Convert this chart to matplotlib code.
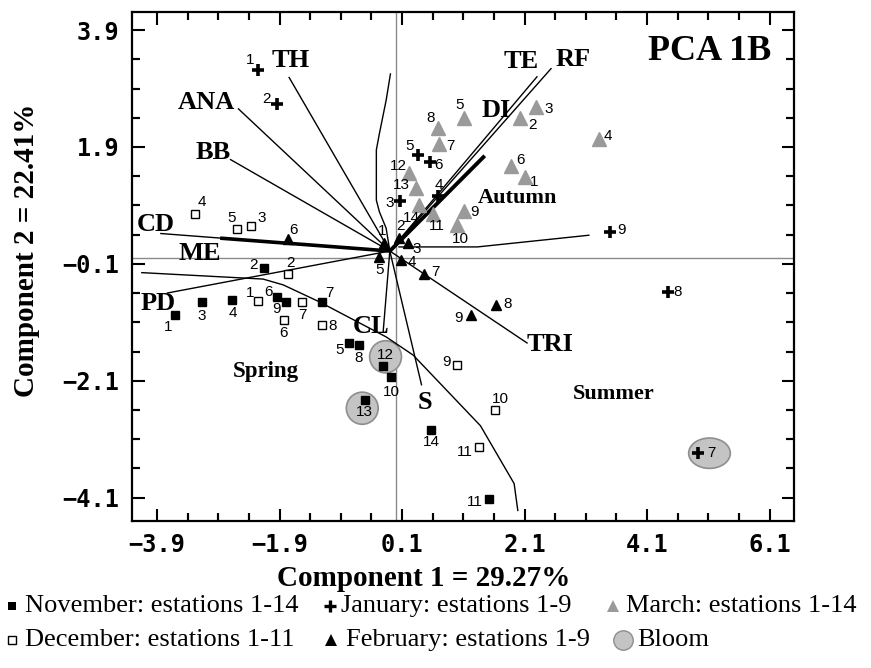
import matplotlib
matplotlib.use("Agg")
import matplotlib.pyplot as plt
from matplotlib.lines import Line2D
from matplotlib.patches import Ellipse

# ---------------- station scores (Component 1, Component 2) ----------------
nov_x = [-3.60, -2.16, -3.17, -2.67, -0.77, -1.95, -1.21, -0.61, -1.79, -0.08, 1.52, -0.21, -0.51, 0.58]
nov_y = [-0.97, -0.17, -0.75, -0.72, -1.46, -0.66, -0.76, -1.49, -0.76, -2.04, -4.13, -1.84, -2.43, -2.95]

dec_x = [-2.26, -1.76, -2.36, -3.28, -2.59, -1.83, -1.53, -1.21, 0.99, 1.62, 1.36]
dec_y = [-0.73, -0.27, 0.55, 0.76, 0.49, -1.06, -0.75, -1.15, -1.83, -2.60, -3.24]

jan_x = [-2.25, -1.95, 0.07, 0.68, 0.36, 0.56, 4.94, 4.44, 3.50]
jan_y = [3.21, 2.63, 0.97, 1.06, 1.76, 1.65, -3.34, -0.58, 0.45]

feb_x = [-0.19, 0.05, 0.19, 0.08, -0.27, -1.76, 0.45, 1.63, 1.22]
feb_y = [0.25, 0.34, 0.26, -0.03, 0.01, 0.32, -0.27, -0.81, -0.98]

mar_x = [2.11, 2.03, 2.28, 3.31, 1.11, 1.88, 0.71, 0.68, 1.11, 0.99, 0.61, 0.22, 0.33, 0.38]
mar_y = [1.38, 2.39, 2.59, 2.04, 2.39, 1.58, 1.95, 2.23, 0.80, 0.57, 0.76, 1.46, 1.19, 0.91]

# bloom stations: November 12, November 13, January 7
bloom_x = [-0.17, -0.55, 5.12]
bloom_y = [-1.69, -2.57, -3.34]

# ---------------- variable loadings ----------------
vec_names = ["TH", "ANA", "BB", "CD", "ME", "PD", "CL", "S", "TRI", "TE", "RF", "DI"]
vec_x = [-1.75, -2.58, -2.71, -3.85, -2.87, -3.74, -0.21, 0.42, 2.15, 2.31, 2.54, 1.45]
vec_y = [3.10, 2.56, 1.69, 0.42, 0.34, -0.60, -1.28, -2.18, -1.46, 3.11, 3.25, 1.75]
vec_origin = (-0.10, 0.12)

# group boundary traces
bound1_x = [-4.15, -2.17, -1.84, -1.25, -0.16, 0.28, 1.38, 1.93, 1.99]
bound1_y = [-0.25, -0.36, -0.46, -0.75, -1.35, -1.66, -2.87, -3.86, -4.32]
bound2_x = [-0.10, -0.16, -0.27, -0.32, -0.32, -0.27, -0.16, -0.09]
bound2_y = [0.12, 0.51, 0.79, 0.99, 1.85, 2.13, 2.70, 3.15]
bound3_x = [0.05, 1.33, 3.15]
bound3_y = [0.19, 0.19, 0.39]

x_ticks = [-3.9, -1.9, 0.1, 2.1, 4.1, 6.1]
y_ticks = [3.9, 1.9, -0.1, -2.1, -4.1]

# ---------------- layout / style ----------------
W, H = 871, 668
serif = "Liberation Serif"
small = ["Liberation Sans Narrow", "Liberation Sans", "DejaVu Sans"]
mono = "DejaVu Sans Mono"
GREY = "#9a9a9a"

vec_thick = {"ME": 2.6, "DI": 2.8}
vec_label_pos = {
    "TH": (-1.72, 3.38), "ANA": (-3.10, 2.66), "BB": (-2.98, 1.80),
    "CD": (-3.93, 0.58), "ME": (-3.20, 0.08), "PD": (-3.89, -0.78),
    "CL": (-0.40, -1.17), "S": (0.48, -2.47), "TRI": (2.51, -1.48),
    "TE": (2.04, 3.37), "RF": (2.90, 3.40), "DI": (1.63, 2.53),
}

# label offsets in pixels for station numbers
nov_off = [(-7, -12), (-10, 3), (0, -14), (0, -13), (-9, -7), (-8, 5), (8, 9),
           (0, -13), (-10, -7), (0, -15), (-14, -3), (2, 11), (0, -12), (0, -12)]
dec_off = [(-7, 8), (2, 11), (10, 8), (7, 12), (-6, 11), (0, -13), (0, -13),
           (11, -1), (-10, 3), (5, 11), (-14, -5)]
jan_off = [(-8, 10), (-10, 5), (-11, -2), (1, 11), (-8, 9), (8, -3), (13, 0),
           (10, 0), (11, 2)]
feb_off = [(-2, 12), (1, 12), (9, -6), (11, -2), (0, -13), (5, 9), (12, 2),
           (12, 1), (-12, -3)]
mar_off = [(9, -5), (12, -7), (13, -2), (9, 3), (-4, 13), (9, 6), (11, -2),
           (-7, 10), (11, -1), (4, -14), (4, -12), (-11, 7), (-15, 3), (-8, -13)]

fig = plt.figure(figsize=(W / 100, H / 100), dpi=100)
ax = fig.add_axes([132 / W, 1 - 521 / H, (794 - 132) / W, (521 - 12) / H])
ax.set_xlim(-4.31, 6.50)
ax.set_ylim(-4.50, 4.21)

# zero lines
ax.axhline(0, color="#8a8a8a", lw=1.0, zorder=1)
ax.axvline(0, color="#8a8a8a", lw=1.0, zorder=1)

# bloom halos
for bx, by, (w, h) in zip(bloom_x, bloom_y, [(0.52, 0.55), (0.52, 0.55), (0.68, 0.52)]):
    ax.add_patch(Ellipse((bx, by), w, h, facecolor="#c4c4c4", edgecolor="#8e8e8e",
                         lw=1.2, zorder=2))

# loadings
ox, oy = vec_origin
for name, vx, vy in zip(vec_names, vec_x, vec_y):
    ax.plot([ox, vx], [oy, vy], color="black", lw=vec_thick.get(name, 1.0),
            solid_capstyle="butt", zorder=3)
    tx, ty = vec_label_pos[name]
    ax.text(tx, ty, name, family=serif, weight="bold", fontsize=19,
            ha="center", va="center", zorder=6)

for bx, by in [(bound1_x, bound1_y), (bound2_x, bound2_y), (bound3_x, bound3_y)]:
    ax.plot(bx, by, color="black", lw=1.0, zorder=3)

# stations
ax.plot(nov_x, nov_y, "s", color="black", ms=5.5, zorder=5)
ax.plot(dec_x, dec_y, "s", mfc="white", mec="black", mew=1.0, ms=5.5, zorder=5)
ax.plot(jan_x, jan_y, "+", color="black", ms=9, mew=2.6, zorder=5)
ax.plot(feb_x, feb_y, "^", color="black", ms=6.5, zorder=5)
ax.plot(mar_x, mar_y, "^", color=GREY, ms=10, zorder=4)


def number(xs, ys, offs):
    for i, (x, y, (dx, dy)) in enumerate(zip(xs, ys, offs), start=1):
        ax.annotate(str(i), (x, y), xytext=(dx, dy), textcoords="offset pixels",
                    ha="center", va="center", family=small, fontsize=11, zorder=6)


number(nov_x, nov_y, nov_off)
number(dec_x, dec_y, dec_off)
number(jan_x, jan_y, jan_off)
number(feb_x, feb_y, feb_off)
number(mar_x, mar_y, mar_off)

# panel tags
ax.text(5.13, 3.54, "PCA 1B", family=serif, weight="bold", fontsize=26,
        ha="center", va="center")
ax.text(1.98, 1.03, "Autumn", family=serif, weight="bold", fontsize=16,
        ha="center", va="center")
ax.text(-2.13, -1.94, "Spring", family=serif, weight="bold", fontsize=16.5,
        ha="center", va="center")
ax.text(3.56, -2.32, "Summer", family=serif, weight="bold", fontsize=16,
        ha="center", va="center")

# axes frame and ticks
for sp in ax.spines.values():
    sp.set_linewidth(1.6)
ax.set_xticks(x_ticks)
ax.set_yticks(y_ticks)
ax.set_xticks([t + d for t in x_ticks for d in (-1.5, -1.0, -0.5, 0.5, 1.0, 1.5)
               if -4.31 < t + d < 6.5 and not any(abs(t + d - u) < 1e-6 for u in x_ticks)],
              minor=True)
ax.set_yticks([t + d for t in y_ticks for d in (-1.5, -1.0, -0.5, 0.5, 1.0, 1.5)
               if -4.5 < t + d < 4.21 and not any(abs(t + d - u) < 1e-6 for u in y_ticks)],
              minor=True)
ax.set_xticklabels([f"{t:.1f}".replace("-", "\u2212") for t in x_ticks])
ax.set_yticklabels([f"{t:.1f}".replace("-", "\u2212") for t in y_ticks])
ax.tick_params(which="both", direction="in", top=True, right=True, width=1.5)
ax.tick_params(which="major", length=9, pad=9)
ax.tick_params(which="minor", length=5.5)
for lab in ax.get_xticklabels() + ax.get_yticklabels():
    lab.set_family(mono)
    lab.set_weight("bold")
    lab.set_fontsize(17)

# axis titles
fig.text(424 / W, 1 - 578 / H, "Component 1 = 29.27%", family=serif, weight="bold",
         fontsize=21, ha="center", va="center")
fig.text(27 / W, 1 - 250 / H, "Component 2 = 22.41%", family=serif, weight="bold",
         fontsize=21, ha="center", va="center", rotation=90)

# legend
legend_rows = [
    [("s", "black", "black", 5.5, 0, "November: estations 1-14", 12, 25),
     ("+", "black", "black", 8, 2.4, "January: estations 1-9", 330, 341),
     ("^", GREY, GREY, 9, 0, "March: estations 1-14", 613, 626)],
    [("s", "white", "black", 5.5, 1.0, "December: estations 1-11", 12, 25),
     ("^", "black", "black", 8, 0, "February: estations 1-9", 331, 346),
     ("o", "#c4c4c4", "#8e8e8e", 14, 1.0, "Bloom", 623, 637)],
]
for row_y, row in zip([606, 640], legend_rows):
    for mk, fc, ec, ms, mew, label, mx, tx in row:
        fig.add_artist(Line2D([mx / W], [1 - row_y / H], transform=fig.transFigure,
                              marker=mk, ms=ms, mfc=fc, mec=ec, mew=mew,
                              color=ec, ls="none"))
        fig.text(tx / W, 1 - row_y / H, label, family=serif, fontsize=19,
                 ha="left", va="center")

fig.savefig("out.png", dpi=100)
